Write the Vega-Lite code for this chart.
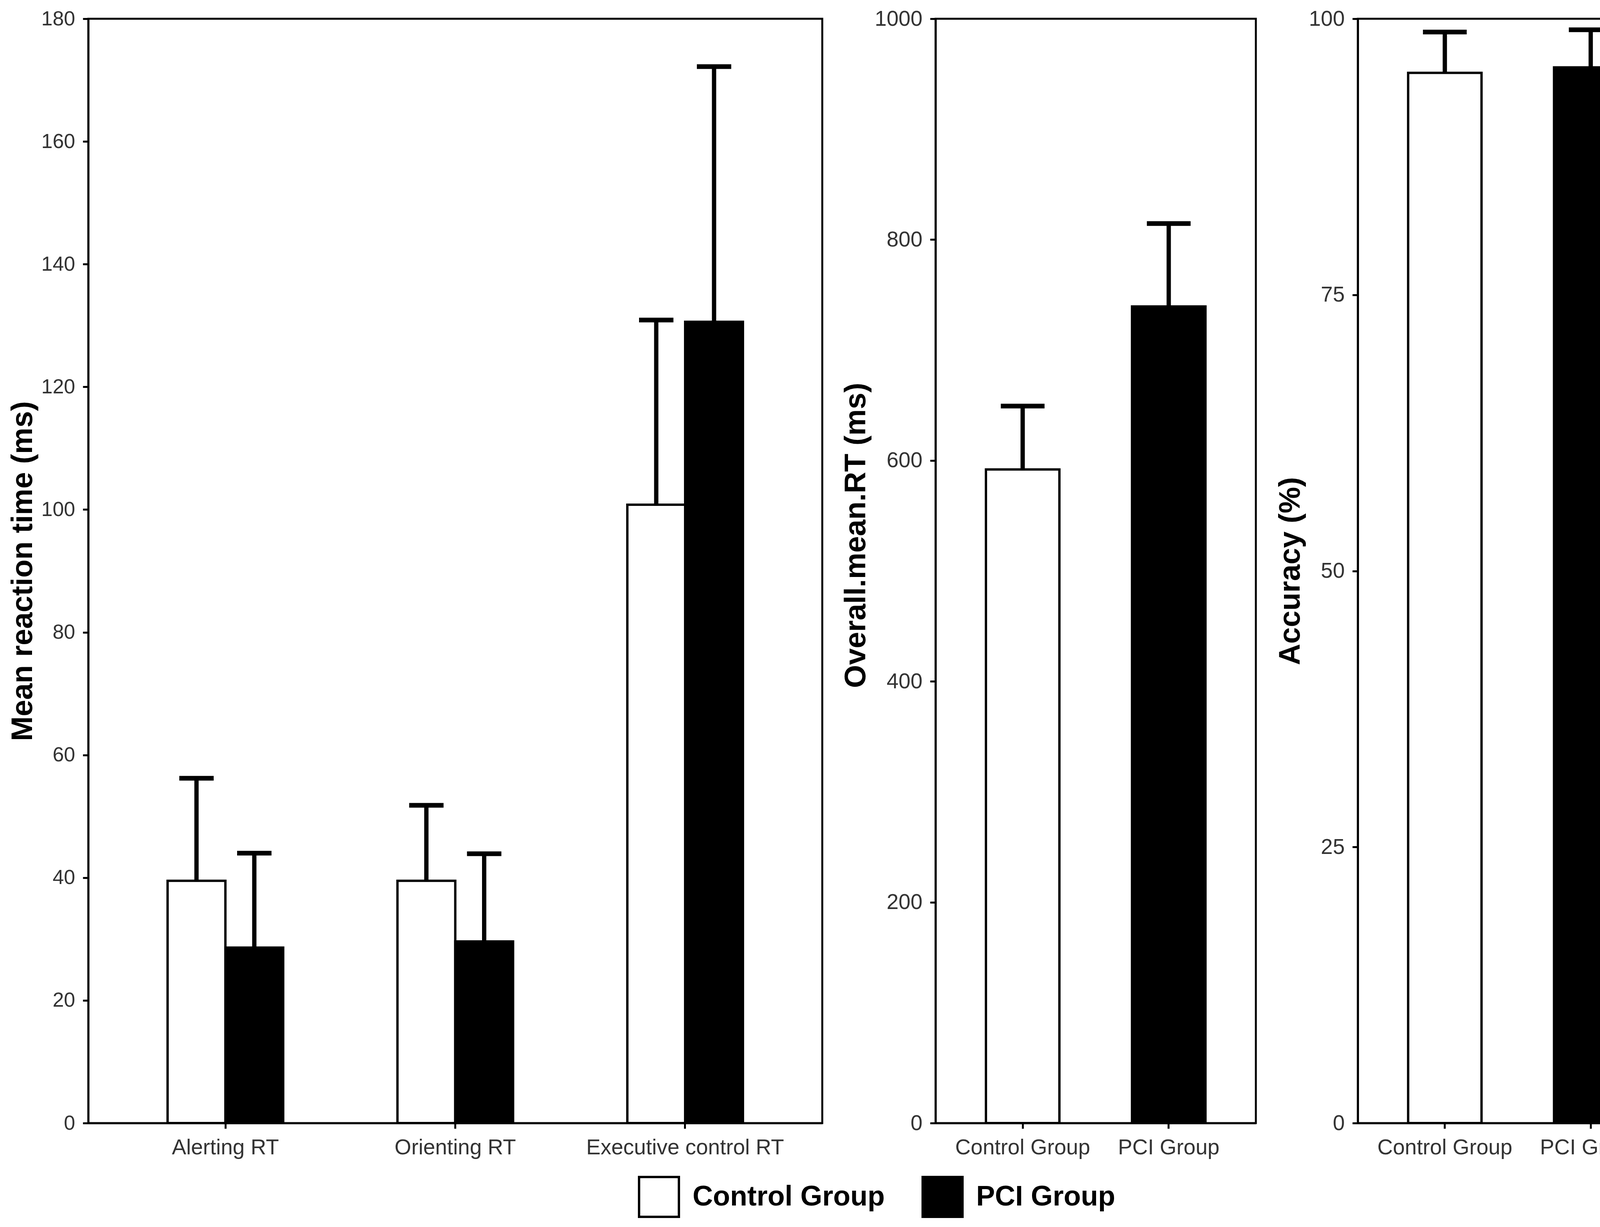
{
  "$schema": "https://vega.github.io/schema/vega-lite/v6.json",
  "background": "white",
  "padding": {"left": 17, "top": 18, "right": 5, "bottom": 5},
  "datasets": {
    "rt": [
      {"measure": "Alerting RT", "group": "Control Group", "mean": 39.5, "upper": 56.2},
      {"measure": "Alerting RT", "group": "PCI Group", "mean": 28.6, "upper": 44.0},
      {"measure": "Orienting RT", "group": "Control Group", "mean": 39.5, "upper": 51.8},
      {"measure": "Orienting RT", "group": "PCI Group", "mean": 29.6, "upper": 43.9},
      {"measure": "Executive control RT", "group": "Control Group", "mean": 100.8, "upper": 130.9},
      {"measure": "Executive control RT", "group": "PCI Group", "mean": 130.6, "upper": 172.2}
    ],
    "overall": [
      {"group": "Control Group", "mean": 591.9, "upper": 649.3},
      {"group": "PCI Group", "mean": 739.5, "upper": 814.6}
    ],
    "acc": [
      {"group": "Control Group", "mean": 95.1, "upper": 98.8},
      {"group": "PCI Group", "mean": 95.6, "upper": 99.0}
    ]
  },
  "bounds": "flush",
  "spacing": 290,
  "hconcat": [
    {
      "width": 1879,
      "height": 2827,
      "data": {"name": "rt"},
      "encoding": {
        "x": {
          "field": "measure",
          "type": "nominal",
          "sort": null,
          "title": null,
          "scale": {"paddingInner": 0.497, "paddingOuter": 0.345},
          "axis": {"labelAngle": 0, "labelFontSize": 55}
        },
        "xOffset": {"field": "group", "type": "nominal", "sort": null}
      },
      "layer": [
        {
          "mark": {"type": "bar", "stroke": "black", "strokeWidth": 6},
          "encoding": {
            "y": {
              "field": "mean",
              "type": "quantitative",
              "stack": null,
              "scale": {"domain": [0, 180], "nice": false},
              "axis": {"values": [0, 20, 40, 60, 80, 100, 120, 140, 160, 180], "format": "d", "title": "Mean reaction time (ms)", "labelFontSize": 52}
            },
            "color": {
              "field": "group",
              "type": "nominal",
              "sort": null,
              "scale": {"domain": ["Control Group", "PCI Group"], "range": ["white", "black"]},
              "legend": {
                "title": null,
                "orient": "none",
                "direction": "horizontal",
                "legendX": 1407,
                "legendY": 2962,
                "symbolType": "square",
                "symbolSize": 10404,
                "symbolStrokeColor": "black",
                "symbolStrokeWidth": 6,
                "symbolOpacity": 1,
                "labelFont": "Liberation Sans",
                "labelFontSize": 72,
                "labelFontWeight": "bold",
                "labelColor": "black",
                "labelLimit": 0,
                "labelOffset": 32,
                "columnPadding": 85,
                "padding": 0
              }
            }
          }
        },
        {
          "mark": {"type": "rule", "color": "black", "strokeWidth": 11},
          "encoding": {
            "y": {"field": "mean", "type": "quantitative"},
            "y2": {"field": "upper"}
          }
        },
        {
          "mark": {"type": "tick", "color": "black", "thickness": 12, "size": 88, "orient": "horizontal", "opacity": 1},
          "encoding": {
            "y": {"field": "upper", "type": "quantitative"}
          }
        }
      ]
    },
    {
      "bounds": "flush",
      "spacing": 261,
      "hconcat": [
        {
          "width": 820,
          "height": 2827,
          "data": {"name": "overall"},
          "encoding": {
            "x": {
              "field": "group",
              "type": "nominal",
              "sort": null,
              "title": null,
              "scale": {"paddingInner": 0.497, "paddingOuter": 0.345},
              "axis": {"labelAngle": 0, "labelFontSize": 55}
            }
          },
          "layer": [
            {
              "mark": {"type": "bar", "stroke": "black", "strokeWidth": 6},
              "encoding": {
                "y": {
                  "field": "mean",
                  "type": "quantitative",
                  "stack": null,
                  "scale": {"domain": [0, 1000], "nice": false},
                  "axis": {"values": [0, 200, 400, 600, 800, 1000], "format": "d", "title": "Overall.mean.RT (ms)", "titleY": 1322, "labelFontSize": 55}
                },
                "color": {"field": "group", "type": "nominal", "sort": null}
              }
            },
            {
              "mark": {"type": "rule", "color": "black", "strokeWidth": 11},
              "encoding": {
                "y": {"field": "mean", "type": "quantitative"},
                "y2": {"field": "upper"}
              }
            },
            {
              "mark": {"type": "tick", "color": "black", "thickness": 12, "size": 112, "orient": "horizontal", "opacity": 1},
              "encoding": {
                "y": {"field": "upper", "type": "quantitative"}
              }
            }
          ]
        },
        {
          "width": 819,
          "height": 2827,
          "data": {"name": "acc"},
          "encoding": {
            "x": {
              "field": "group",
              "type": "nominal",
              "sort": null,
              "title": null,
              "scale": {"paddingInner": 0.497, "paddingOuter": 0.345},
              "axis": {"labelAngle": 0, "labelFontSize": 55}
            }
          },
          "layer": [
            {
              "mark": {"type": "bar", "stroke": "black", "strokeWidth": 6},
              "encoding": {
                "y": {
                  "field": "mean",
                  "type": "quantitative",
                  "stack": null,
                  "scale": {"domain": [0, 100], "nice": false},
                  "axis": {"values": [0, 25, 50, 75, 100], "format": "d", "title": "Accuracy (%)", "labelFontSize": 55}
                },
                "color": {"field": "group", "type": "nominal", "sort": null}
              }
            },
            {
              "mark": {"type": "rule", "color": "black", "strokeWidth": 11},
              "encoding": {
                "y": {"field": "mean", "type": "quantitative"},
                "y2": {"field": "upper"}
              }
            },
            {
              "mark": {"type": "tick", "color": "black", "thickness": 12, "size": 112, "orient": "horizontal", "opacity": 1},
              "encoding": {
                "y": {"field": "upper", "type": "quantitative"}
              }
            }
          ]
        }
      ]
    }
  ],
  "config": {
    "font": "Liberation Sans",
    "view": {"stroke": "black", "strokeWidth": 5},
    "bar": {"opacity": 1},
    "axis": {
      "grid": false,
      "labelFont": "Liberation Sans",
      "labelColor": "#333333",
      "labelLimit": 0,
      "titleFont": "Liberation Sans",
      "titleFontWeight": "bold",
      "titleFontSize": 76,
      "titleColor": "black",
      "domainColor": "black",
      "domainWidth": 5,
      "tickColor": "black",
      "tickWidth": 5,
      "tickSize": 14
    },
    "axisY": {"labelPadding": 20, "titlePadding": 8},
    "axisX": {"labelPadding": 22}
  }
}
